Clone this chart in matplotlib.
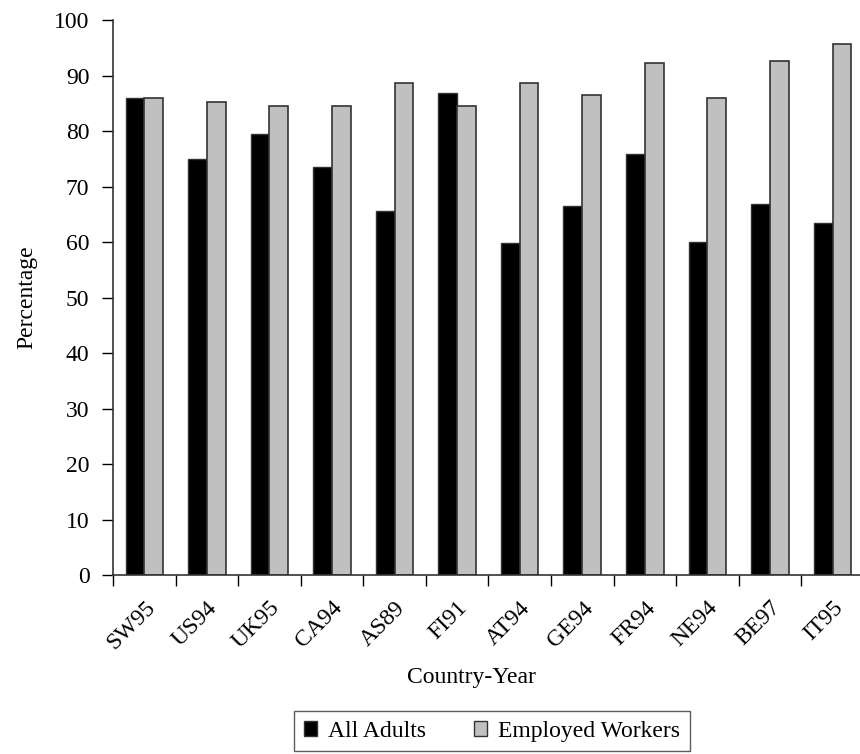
import matplotlib.pyplot as plt
import numpy as np
from matplotlib.patches import Patch

plt.rcParams["font.family"] = ["Liberation Serif", "DejaVu Serif"]

COUNTRIES = ["SW95", "US94", "UK95", "CA94", "AS89", "FI91",
             "AT94", "GE94", "FR94", "NE94", "BE97", "IT95"]
ALL_ADULTS = [85.9, 75.0, 79.4, 73.6, 65.6, 86.8,
              59.9, 66.5, 75.8, 60.0, 66.9, 63.4]
EMPLOYED = [85.9, 85.2, 84.6, 84.6, 88.7, 84.6,
            88.7, 86.5, 92.2, 86.0, 92.7, 95.7]
Y_TICKS = list(range(0, 101, 10))

FS = 17

fig = plt.figure(figsize=(8.6, 7.54), dpi=100)
ax = fig.add_axes([0.1314, 0.2374, 0.873, 0.736])

x = np.arange(len(COUNTRIES))
w = 0.30
ax.bar(x - w / 2, ALL_ADULTS, w, color="black", edgecolor="#333333",
       linewidth=1.0, label="All Adults")
ax.bar(x + w / 2, EMPLOYED, w, color="#c0c0c0", edgecolor="#333333",
       linewidth=1.2, label="Employed Workers")

ax.set_xlim(-0.5, len(COUNTRIES) - 0.5)
ax.set_ylim(0, 100)
ax.set_yticks(Y_TICKS)
ax.tick_params(axis="y", direction="out", length=8, width=1,
               labelsize=FS, pad=9)

# labels at category centres, tick marks at category boundaries
ax.set_xticks(x)
ax.set_xticklabels(COUNTRIES, rotation=45, ha="right",
                   rotation_mode="anchor", fontsize=FS)
ax.tick_params(axis="x", which="major", length=0, pad=16)
ax.set_xticks(np.arange(len(COUNTRIES)) - 0.5, minor=True)
ax.tick_params(axis="x", which="minor", direction="out", length=8, width=1)

for side in ("top", "right"):
    ax.spines[side].set_visible(False)
for side in ("left", "bottom"):
    ax.spines[side].set_color("#333333")
    ax.spines[side].set_linewidth(1.2)

ax.set_ylabel("Percentage", fontsize=FS, labelpad=12)
ax.set_xlabel("Country-Year", fontsize=FS, labelpad=14)
ax.xaxis.set_label_coords(0.477, -0.165)

handles = [Patch(facecolor="black", edgecolor="#333333", label="All Adults"),
           Patch(facecolor="#c0c0c0", edgecolor="#333333",
                 label="Employed Workers")]
leg = fig.legend(handles=handles, loc="lower center",
                 bbox_to_anchor=(0.572, -0.012), ncol=2, fontsize=FS,
                 frameon=True, fancybox=False, handlelength=0.55,
                 handleheight=0.55, handletextpad=0.5, columnspacing=2.0,
                 borderpad=0.4)
leg.get_frame().set_edgecolor("#333333")
leg.get_frame().set_linewidth(1.0)

fig.savefig("out.png", dpi=100)
